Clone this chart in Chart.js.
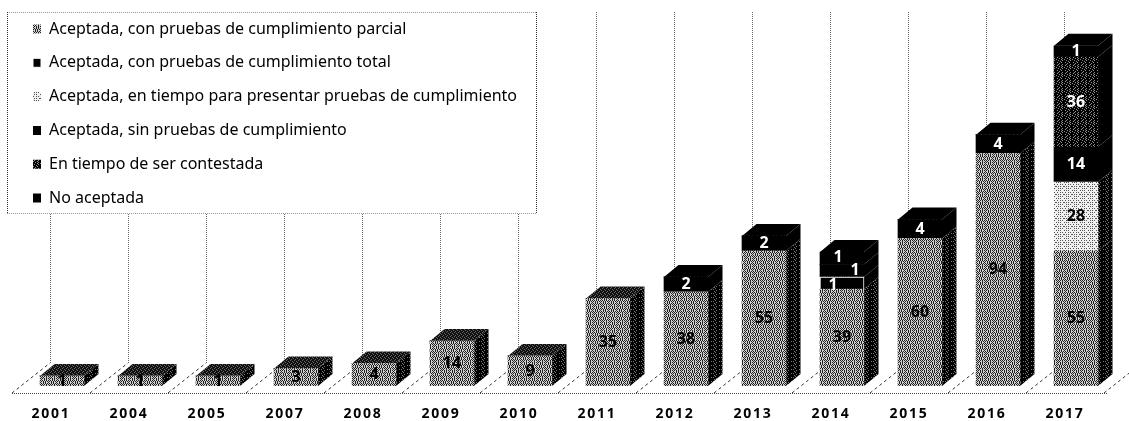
<!DOCTYPE html>
<html lang="es">
<head>
<meta charset="utf-8">
<style>html,body{margin:0;padding:0;background:#fff}canvas{display:block}</style>
<script src="https://cdn.jsdelivr.net/npm/chart.js@4/dist/chart.umd.min.js"></script>
</head>
<body>
<canvas id="c" width="1129" height="421"></canvas>
<script>
const years = ['2001','2004','2005','2007','2008','2009','2010','2011','2012','2013','2014','2015','2016','2017'];
const seriesNames = [
  'Aceptada, con pruebas de cumplimiento parcial',
  'Aceptada, con pruebas de cumplimiento total',
  'Aceptada, en tiempo para presentar pruebas de cumplimiento',
  'Aceptada, sin pruebas de cumplimiento',
  'En tiempo de ser contestada',
  'No aceptada'
];
// Values printed on the bars.
const printedParcial    = [1,1,1,3,4,14,9,35,38,55,39,60,94,55];
const printedTotal      = [null,null,null,null,null,null,null,null,null,null,1,null,null,null];
const printedPlazo      = [null,null,null,null,null,null,null,null,null,null,null,null,null,28];
const printedSin        = [null,null,null,null,null,null,null,null,2,2,1,4,4,14];
const printedContestada = [null,null,null,null,null,null,null,null,null,null,null,null,null,36];
const printedNo         = [null,null,null,null,null,null,null,null,null,null,1,null,null,1];
// Bar heights: the original draws small segments taller than their printed value.
const heightParcial    = [4,4,4,7,9,18,12,35,37.6,54,38.8,59,93,54];
const heightTotal      = [0,0,0,0,0,0,0,0,0,0,4.8,0,0,0];
const heightPlazo      = [0,0,0,0,0,0,0,0,0,0,0,0,0,27.6];
const heightSin        = [0,0,0,0,0,0,0,0,6,6,5,7.6,7.5,14];
const heightContestada = [0,0,0,0,0,0,0,0,0,0,0,0,0,36];
const heightNo         = [0,0,0,0,0,0,0,0,0,0,5,0,0,4.5];

function tile(rows, dark, light) {
  const c = document.createElement('canvas');
  c.width = rows[0].length; c.height = rows.length;
  const x = c.getContext('2d');
  rows.forEach((r, j) => [...r].forEach((ch, i) => {
    x.fillStyle = ch === '#' ? dark : light;
    x.fillRect(i, j, 1, 1);
  }));
  return x.createPattern(c, 'repeat');
}
const midRows = ['#.#.#.#.','.#.#..#.','#.#.#.#.','.#..#.#.','#.#.#.#.','.#.#.#.#','#..#.#..','.#.#.#.#'];
const lightRows = ['.#..#.#.','........','#.#.#..#','........','..#.#.#.','........','#.#.#...','........'];
const darkRows = ['##.###.#','#.###.##','###.##.#','.####.##','##.###.#','####.###','#.###.##','###.####'];
const pMid = tile(midRows, '#222', '#d0d0d0');
const pLight = tile(lightRows, '#555', '#f0f0f0');
const pDark = tile(darkRows, '#000', '#909090');
const pSide = tile(['###.####','#.#####.','####.###','##.#####'], '#000', '#777');
const pTop = tile(['##.#','.###','#.##','###.'], '#111', '#666');
const black = '#000';

const fronts = [pMid, black, pLight, black, pDark, black];
const sides  = [pSide, black, pSide, black, black, black];
const tops   = [pTop, black, black, black, black, black];
const inks   = ['#000', '#fff', '#000', '#fff', '#fff', '#fff'];
const heights = [heightParcial, heightTotal, heightPlazo, heightSin, heightContestada, heightNo];
const printed = [printedParcial, printedTotal, printedPlazo, printedSin, printedContestada, printedNo];

const DEPTH_X = 14.5, DEPTH_Y = 12;
const labelNudges = { '1:10': [-9, 2], '3:10': [13, 0], '5:10': [-4, -1] };

function poly(ctx, pts, fill) {
  ctx.beginPath();
  pts.forEach((p, i) => i ? ctx.lineTo(p[0], p[1]) : ctx.moveTo(p[0], p[1]));
  ctx.closePath();
  ctx.fillStyle = fill;
  ctx.fill();
}

const wall = {
  id: 'wall',
  beforeDraw(chart) {
    const { ctx } = chart, x = chart.scales.x, y = chart.scales.y;
    const floorY = y.getPixelForValue(0) + 7, backY = floorY - 30;
    const step = x.getPixelForValue(1) - x.getPixelForValue(0);
    ctx.save();
    ctx.lineWidth = 1;
    for (let k = 0; k <= years.length; k++) {
      const back = x.getPixelForValue(k) - 12;
      const front = back - 38;
      ctx.strokeStyle = '#666';
      ctx.setLineDash([1, 1]);
      if (k < years.length) {
        ctx.beginPath(); ctx.moveTo(back + .5, chart.chartArea.top + 1); ctx.lineTo(back + .5, backY); ctx.stroke();
      }
      ctx.strokeStyle = '#333';
      ctx.setLineDash([3, 3]);
      ctx.beginPath(); ctx.moveTo(front, floorY); ctx.lineTo(back, backY); ctx.stroke();
    }
    const first = x.getPixelForValue(0) - 12 - 38;
    const last = x.getPixelForValue(years.length - 1) - 12 - 38 + step;
    ctx.strokeStyle = '#444';
    ctx.setLineDash([1, 1]);
    ctx.beginPath(); ctx.moveTo(first, floorY + .5); ctx.lineTo(last + 3, floorY + .5); ctx.stroke();
    // legend frame
    ctx.fillStyle = '#fff';
    ctx.fillRect(7, 12, 529, 201);
    ctx.strokeStyle = '#999';
    ctx.beginPath();
    ctx.moveTo(7, 12.5); ctx.lineTo(536, 12.5);
    ctx.moveTo(7, 213.5); ctx.lineTo(536, 213.5);
    ctx.stroke();
    ctx.strokeStyle = '#333';
    ctx.beginPath();
    ctx.moveTo(7.5, 12); ctx.lineTo(7.5, 213);
    ctx.moveTo(536.5, 12); ctx.lineTo(536.5, 213);
    ctx.stroke();
    ctx.restore();
  },
  afterLayout(chart) {
    chart.legend.left = 15.2;
    chart.legend.top = 3.2;
  },
  beforeDatasetsDraw(chart) {
    const { ctx } = chart;
    ctx.save();
    years.forEach((_, i) => {
      let topEl = null, topDs = 0;
      heights.forEach((h, d) => {
        if (!h[i]) return;
        const el = chart.getDatasetMeta(d).data[i];
        const r = el.x + el.width / 2;
        poly(ctx, [[r, el.base], [r + DEPTH_X, el.base - DEPTH_Y], [r + DEPTH_X, el.y - DEPTH_Y], [r, el.y]], sides[d]);
        topEl = el; topDs = d;
      });
      const l = topEl.x - topEl.width / 2, r = topEl.x + topEl.width / 2;
      poly(ctx, [[l, topEl.y], [l + DEPTH_X, topEl.y - DEPTH_Y], [r + DEPTH_X, topEl.y - DEPTH_Y], [r, topEl.y]], tops[topDs]);
    });
    ctx.restore();
  },
  afterDatasetsDraw(chart) {
    const { ctx } = chart;
    ctx.save();
    ctx.font = 'bold 16px "Noto Sans"';
    ctx.textAlign = 'center';
    ctx.textBaseline = 'middle';
    printed.forEach((vals, d) => vals.forEach((v, i) => {
      if (v === null) return;
      const el = chart.getDatasetMeta(d).data[i];
      const n = labelNudges[d + ':' + i] || [0, 0];
      ctx.fillStyle = inks[d];
      ctx.fillText(String(v), el.x + n[0], (el.y + el.base) / 2 + n[1]);
    }));
    ctx.restore();
    ctx.letterSpacing = '1.7px'; // the year labels, drawn next
  },
  afterDraw(chart) { chart.ctx.letterSpacing = '0px'; }
};

const datasets = seriesNames.map((name, d) => ({
  label: name,
  data: heights[d],
  backgroundColor: fronts[d],
  borderColor: d === 1 ? '#fff' : 'transparent',
  borderWidth: d === 1 ? 1 : 0,
  barThickness: 44
}));

new Chart(document.getElementById('c'), {
  type: 'bar',
  data: { labels: years, datasets },
  plugins: [wall],
  options: {
    responsive: false,
    animation: false,
    layout: { padding: { left: 23, right: 14, top: 11, bottom: 0 } },
    scales: {
      x: {
        stacked: true,
        afterFit(scale) { scale.height = 35; },
        grid: { display: false, drawTicks: false },
        border: { display: false },
        ticks: {
          z: 1, padding: 20, labelOffset: -11,
          maxRotation: 0, autoSkip: false, color: '#000',
          font: { family: '"Noto Sans"', weight: 'bold', size: 14 }
        }
      },
      y: { stacked: true, display: false, min: 0, max: 150 }
    },
    plugins: {
      tooltip: { enabled: false },
      legend: {
        position: 'chartArea',
        align: 'start',
        onClick: null,
        labels: {
          boxWidth: 8, boxHeight: 9, padding: 17.8, color: '#000',
          font: { family: '"Noto Sans"', size: 16 }
        }
      }
    }
  }
});
</script>
</body>
</html>
